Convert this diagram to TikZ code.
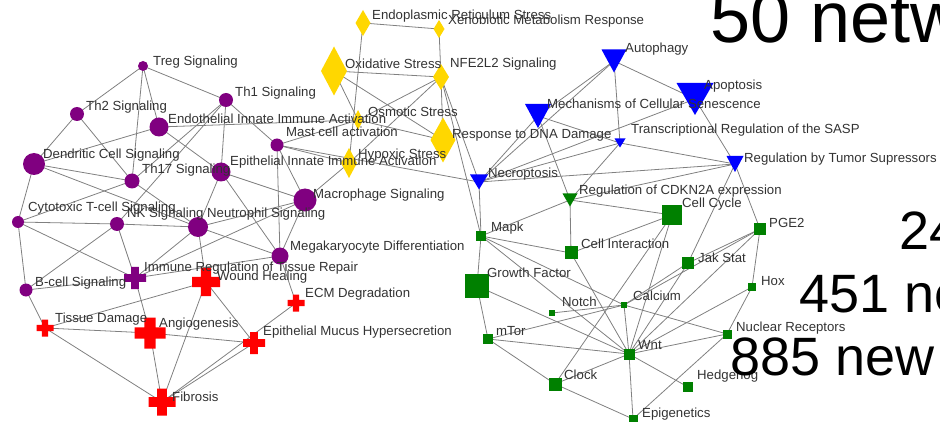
\documentclass[tikz,border=0pt]{standalone}
\usepackage{fontspec}
\setmainfont{Liberation Sans}
\usetikzlibrary{calc}

\definecolor{purp}{RGB}{128,0,128}
\definecolor{gold}{RGB}{255,215,0}
\definecolor{netblue}{RGB}{0,0,255}
\definecolor{netgreen}{RGB}{0,128,0}
\definecolor{netred}{RGB}{255,0,0}
\definecolor{edgegray}{RGB}{128,128,128}
\definecolor{labeltext}{RGB}{51,51,51}

\tikzset{
  edge/.style={draw=edgegray, line width=0.8pt},
  lbl/.style={anchor=base west, inner sep=0pt, text=labeltext, font=\fontsize{13.2}{15}\selectfont},
  bigtext/.style={anchor=base west, inner sep=0pt, text=black},
}

% node glyphs: disc, cross, diamond, down-triangle, square
\newcommand\netdisc[2]{\fill[purp] (#1) circle[radius=#2pt];}
\newcommand\netcross[3]{%
  \pgfmathsetmacro\netArm{#2/2}\pgfmathsetmacro\netBar{#2*0.18}%
  \fill[#3,shift={(#1)}] (-\netArm pt,-\netBar pt) rectangle (\netArm pt,\netBar pt)
                          (-\netBar pt,-\netArm pt) rectangle (\netBar pt,\netArm pt);}
\newcommand\netdiamond[3]{%
  \fill[gold,shift={(#1)}] ({-#2pt/2},0pt) -- (0pt,{#3pt/2}) -- ({#2pt/2},0pt) -- (0pt,{-#3pt/2}) -- cycle;}
\newcommand\nettri[4]{%
  \fill[#4,shift={(#1)}] ({-#2pt/2},{#3pt/2}) -- ({#2pt/2},{#3pt/2}) -- (0pt,{-#3pt/2}) -- cycle;}
\newcommand\netsq[2]{%
  \fill[netgreen,shift={(#1)}] ({-#2pt/2},{-#2pt/2}) rectangle ({#2pt/2},{#2pt/2});}

\begin{document}
\begin{tikzpicture}[x=1pt,y=-1pt]
\useasboundingbox (0,0) rectangle (940,422);
\clip (0,0) rectangle (940,422);

% ---- node positions ----
% immune signalling (purple)
\coordinate (treg)  at (143,66);
\coordinate (th1)   at (226,100);
\coordinate (th2)   at (77,114);
\coordinate (endo)  at (159,127);
\coordinate (dend)  at (34,164);
\coordinate (th17)  at (132,181);
\coordinate (epi)   at (221,172);
\coordinate (mast)  at (277,145);
\coordinate (macro) at (305,200);
\coordinate (cyto)  at (18,222);
\coordinate (nk)    at (117,224);
\coordinate (neut)  at (198,227);
\coordinate (mega)  at (280,256);
\coordinate (bcell) at (26,290);
% tissue processes (crosses)
\coordinate (imreg)  at (135,278);
\coordinate (wound)  at (206,282);
\coordinate (tissue) at (45,328);
\coordinate (angio)  at (150,333);
\coordinate (fib)    at (162,402);
\coordinate (ecm)    at (296,303);
\coordinate (mucus)  at (254,343);
% stress (diamonds)
\coordinate (er)   at (363,23);
\coordinate (xeno) at (439,29);
\coordinate (oxi)  at (334,71);
\coordinate (nfe)  at (441,77);
\coordinate (osm)  at (358,120);
\coordinate (dna)  at (443,140);
\coordinate (hyp)  at (349,163);
% cell fate (triangles)
\coordinate (auto)  at (614,61);
\coordinate (apop)  at (695,99);
\coordinate (mech)  at (538,116);
\coordinate (sasp)  at (620,143);
\coordinate (tumor) at (735,164);
\coordinate (necro) at (479,182);
\coordinate (cdkn)  at (570,200);
% pathways (squares)
\coordinate (mapk)   at (481,236);
\coordinate (cycle)  at (672,215);
\coordinate (inter)  at (571,253);
\coordinate (growth) at (477,286);
\coordinate (notch)  at (552,313);
\coordinate (calc)   at (624,305);
\coordinate (mtor)   at (488,339);
\coordinate (wnt)    at (629,354);
\coordinate (clock)  at (555,384);
\coordinate (epig)   at (633,419);
\coordinate (pge)    at (760,229);
\coordinate (jak)    at (688,263);
\coordinate (hox)    at (752,287);
\coordinate (nucl)   at (727,334);
\coordinate (hedge)  at (688,387);

% ---- connectors ----
\foreach \a/\b in {
  treg/th2, treg/th1, treg/th17, treg/endo,
  th2/dend, th2/th17,
  endo/dend, endo/epi, endo/osm,
  th1/th17, th1/nk, th1/epi, th1/mast,
  dend/th17, dend/cyto, dend/neut,
  th17/cyto, th17/neut,
  cyto/nk, cyto/imreg, cyto/bcell,
  nk/neut, nk/imreg, nk/bcell,
  neut/epi, neut/macro, neut/mega, neut/wound, neut/imreg,
  epi/macro, epi/mega,
  mast/mega, mast/macro, mast/osm, mast/hyp, mast/necro,
  macro/mega, macro/imreg, macro/hyp,
  mega/ecm, imreg/mega,
  bcell/imreg, bcell/tissue,
  imreg/angio,
  wound/tissue, wound/fib, wound/mucus,
  tissue/angio, tissue/fib,
  angio/fib, angio/mucus,
  fib/mucus, fib/ecm,
  er/xeno, er/hyp, xeno/nfe, oxi/nfe, oxi/osm, oxi/dna,
  nfe/osm, nfe/hyp, nfe/dna, nfe/necro, nfe/mapk, osm/dna,
  auto/mech, auto/necro, auto/sasp, auto/apop,
  mech/necro, mech/sasp, mech/cdkn,
  apop/necro, apop/tumor,
  sasp/necro, sasp/tumor, sasp/cdkn,
  tumor/necro, tumor/cdkn, tumor/jak, tumor/pge,
  necro/mapk, mapk/cdkn, mapk/inter, mapk/growth, mapk/calc, mapk/wnt,
  cdkn/inter, cdkn/cycle, inter/cycle, inter/wnt,
  growth/mtor, growth/wnt,
  mtor/calc, mtor/wnt, mtor/clock,
  notch/calc, calc/wnt, calc/nucl, calc/jak, calc/pge,
  cycle/clock, cycle/wnt,
  wnt/clock, wnt/epig, wnt/hedge, wnt/nucl, wnt/hox, wnt/jak, wnt/pge,
  clock/epig, epig/nucl, hox/nucl, pge/hox, jak/pge}
  \draw[edge] (\a) -- (\b);

% ---- glyphs ----
\netdisc{treg}{5}  \netdisc{th1}{7}   \netdisc{th2}{7}    \netdisc{endo}{9.5}
\netdisc{dend}{11} \netdisc{th17}{7.5} \netdisc{epi}{9.5} \netdisc{mast}{6.5}
\netdisc{macro}{11.5} \netdisc{cyto}{6} \netdisc{nk}{7}   \netdisc{neut}{10}
\netdisc{mega}{8.5} \netdisc{bcell}{6.5}

\netcross{imreg}{22}{purp}
\netcross{wound}{28}{netred}
\netcross{tissue}{17}{netred}
\netcross{angio}{31}{netred}
\netcross{fib}{27}{netred}
\netcross{ecm}{17}{netred}
\netcross{mucus}{22}{netred}

\netdiamond{er}{15}{26}
\netdiamond{xeno}{11}{18}
\netdiamond{oxi}{26}{49}
\netdiamond{nfe}{16}{26}
\netdiamond{osm}{10}{20}
\netdiamond{dna}{25}{45}
\netdiamond{hyp}{16}{30}

\nettri{auto}{25}{23}{netblue}
\nettri{apop}{37}{32}{netblue}
\nettri{mech}{26}{24}{netblue}
\nettri{sasp}{11}{9}{netblue}
\nettri{tumor}{17}{16}{netblue}
\nettri{necro}{18}{15}{netblue}
\nettri{cdkn}{15}{13}{netgreen}

\netsq{mapk}{10}  \netsq{cycle}{20} \netsq{inter}{13} \netsq{growth}{24}
\netsq{notch}{6}  \netsq{calc}{6}   \netsq{mtor}{10}  \netsq{wnt}{11}
\netsq{clock}{13} \netsq{epig}{9}   \netsq{pge}{12}   \netsq{jak}{12}
\netsq{hox}{8}    \netsq{nucl}{9}   \netsq{hedge}{10}

% ---- labels ----
\node[lbl] (l-treg)  at (153,66)  {Treg Signaling};
\node[lbl] (l-th1)   at (235,97)  {Th1 Signaling};
\node[lbl] (l-th2)   at (86,111)  {Th2 Signaling};
\node[lbl] (l-endo)  at (168,124) {Endothelial Innate Immune Activation};
\node[lbl] (l-dend)  at (43,159)  {Dendritic Cell Signaling};
\node[lbl] (l-th17)  at (142,174) {Th17 Signaling};
\node[lbl] (l-epi)   at (230,166) {Epithelial Innate Immune Activation};
\node[lbl] (l-mast)  at (286,137) {Mast cell activation};
\node[lbl] (l-macro) at (313,199) {Macrophage Signaling};
\node[lbl] (l-cyto)  at (28,212)  {Cytotoxic T-cell Signaling};
\node[lbl] (l-nk)    at (127,218) {NK Signaling};
\node[lbl] (l-neut)  at (207,218) {Neutrophil Signaling};
\node[lbl] (l-mega)  at (290,251) {Megakaryocyte Differentiation};
\node[lbl] (l-bcell) at (35,287)  {B-cell Signaling};
\node[lbl] (l-imreg) at (144,272) {Immune Regulation of Tissue Repair};
\node[lbl] (l-wound) at (217,280) {Wound Healing};
\node[lbl] (l-tissue) at (55,322) {Tissue Damage};
\node[lbl] (l-angio) at (159,327) {Angiogenesis};
\node[lbl] (l-fib)   at (172,401) {Fibrosis};
\node[lbl] (l-ecm)   at (305,298) {ECM Degradation};
\node[lbl] (l-mucus) at (263,335) {Epithelial Mucus Hypersecretion};

\node[lbl] (l-er)   at (372,20)  {Endoplasmic Reticulum Stress};
\node[lbl] (l-xeno) at (448,25)  {Xenobiotic Metabolism Response};
\node[lbl] (l-oxi)  at (345,69)  {Oxidative Stress};
\node[lbl] (l-nfe)  at (450,68)  {NFE2L2 Signaling};
\node[lbl] (l-osm)  at (368,117) {Osmotic Stress};
\node[lbl] (l-dna)  at (452,139) {Response to DNA Damage};
\node[lbl] (l-hyp)  at (358,159) {Hypoxic Stress};

\node[lbl] (l-auto)  at (625,53)  {Autophagy};
\node[lbl] (l-apop)  at (704,90)  {Apoptosis};
\node[lbl] (l-mech)  at (547,109) {Mechanisms of Cellular Senescence};
\node[lbl] (l-sasp)  at (631,134) {Transcriptional Regulation of the SASP};
\node[lbl] (l-tumor) at (744,163) {Regulation by Tumor Supressors};
\node[lbl] (l-necro) at (488,178) {Necroptosis};
\node[lbl] (l-cdkn)  at (579,195) {Regulation of CDKN2A expression};

\node[lbl] (l-mapk)   at (491,232) {Mapk};
\node[lbl] (l-cycle)  at (682,208) {Cell Cycle};
\node[lbl] (l-inter)  at (581,249) {Cell Interaction};
\node[lbl] (l-growth) at (487,277) {Growth Factor};
\node[lbl] (l-notch)  at (562,306) {Notch};
\node[lbl] (l-calc)   at (633,301) {Calcium};
\node[lbl] (l-mtor)   at (496,335) {mTor};
\node[lbl] (l-wnt)    at (638,349) {Wnt};
\node[lbl] (l-clock)  at (564,379) {Clock};
\node[lbl] (l-epig)   at (642,417) {Epigenetics};
\node[lbl] (l-pge)    at (769,228) {PGE2};
\node[lbl] (l-jak)    at (698,262) {Jak Stat};
\node[lbl] (l-hox)    at (761,286) {Hox};
\node[lbl] (l-nucl)   at (736,331) {Nuclear Receptors};
\node[lbl] (l-hedge)  at (697,379) {Hedgehog};

% ---- summary figures ----
\node[bigtext, font=\fontsize{72}{72}\selectfont] (s-net) at (710,43) {50 netw};
\node[bigtext, font=\fontsize{54}{54}\selectfont] (s-24) at (899,250) {24};
\node[bigtext, font=\fontsize{54}{54}\selectfont] (s-451) at (799,312) {451 ne};
\node[bigtext, font=\fontsize{54}{54}\selectfont] (s-885) at (730,375) {885 new};
\end{tikzpicture}
\end{document}
